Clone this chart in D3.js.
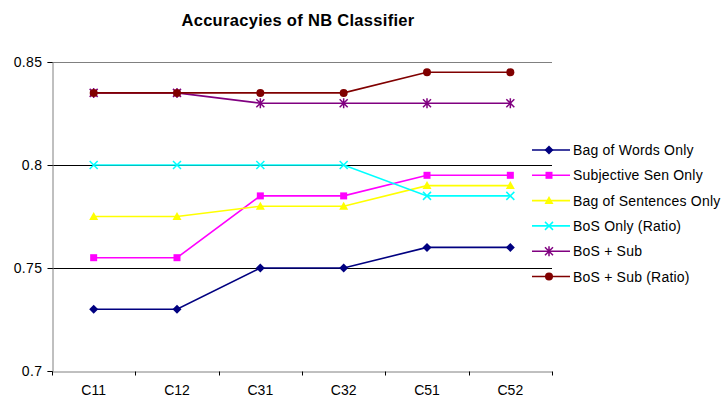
<!DOCTYPE html>
<html><head><meta charset="utf-8">
<script src="https://cdn.jsdelivr.net/npm/d3@7"></script>
<style>body{margin:0;background:#fff}svg{display:block;font-family:Arial,"Liberation Sans",sans-serif}</style>
</head><body>
<script>
const categories = ["C11","C12","C31","C32","C51","C52"];
const seriesNames = ["Bag of Words Only","Subjective Sen Only","Bag of Sentences Only","BoS Only (Ratio)","BoS + Sub","BoS + Sub (Ratio)"];
const bagOfWords = [0.73,0.73,0.75,0.75,0.76,0.76];
const subjectiveSen = [0.755,0.755,0.785,0.785,0.795,0.795];
const bagOfSentences = [0.775,0.775,0.78,0.78,0.79,0.79];
const bosRatio = [0.8,0.8,0.8,0.8,0.785,0.785];
const bosSub = [0.835,0.835,0.83,0.83,0.83,0.83];
const bosSubRatio = [0.835,0.835,0.835,0.835,0.845,0.845];
const yTicks = [0.7,0.75,0.8,0.85];
const colors = ["#000080","#FF00FF","#FFFF00","#00FFFF","#800080","#800000"];
const markers = ["diamond","square","triangle","x","star","circle"];
const seriesValues = [bagOfWords,subjectiveSen,bagOfSentences,bosRatio,bosSub,bosSubRatio];

const W=721,H=397;
const FONT="Arial,'Liberation Sans',sans-serif";
const svg=d3.select("body").append("svg").attr("width",W).attr("height",H);
const L=52,R=552,T=62,B=371;
const x=d3.scaleBand().domain(categories).range([L,R]);
const y=d3.scaleLinear().domain([0.7,0.85]).range([B,T]);

svg.append("text").attr("x",298).attr("y",26).attr("text-anchor","middle")
  .attr("font-size",16.5).attr("font-weight","bold").attr("letter-spacing",0.3).text("Accuracyies of NB Classifier");

// gridlines
svg.append("g").selectAll("line").data([0.75,0.8]).join("line")
  .attr("x1",L).attr("x2",R).attr("y1",d=>Math.round(y(d))+0.5).attr("y2",d=>Math.round(y(d))+0.5)
  .attr("stroke","#000").attr("stroke-width",1);
svg.append("line").attr("x1",L).attr("x2",R).attr("y1",Math.round(y(0.85))+0.5).attr("y2",Math.round(y(0.85))+0.5)
  .attr("stroke","#808080").attr("stroke-width",1);

// y axis
const ya=svg.append("g").attr("transform",`translate(${L+0.5},0)`)
  .call(d3.axisLeft(y).tickValues(yTicks).tickFormat(d=>String(+d.toFixed(2))).tickSize(5).tickPadding(5));
ya.select(".domain").attr("stroke","#808080");
ya.selectAll(".tick line").attr("stroke","#000");
ya.selectAll("text").attr("font-size",14).attr("letter-spacing",0.4).attr("font-family",FONT).attr("fill","#000");

// x axis
const xa=svg.append("g").attr("transform",`translate(0,${B+0.5})`)
  .call(d3.axisBottom(x).tickSize(0).tickPadding(14));
xa.select(".domain").attr("stroke","#808080");
xa.selectAll("text").attr("font-size",14).attr("font-family",FONT).attr("fill","#000");
xa.append("g").selectAll("line").data(d3.range(categories.length+1)).join("line")
  .attr("x1",i=>Math.round(L+i*x.step())+0.5).attr("x2",i=>Math.round(L+i*x.step())+0.5)
  .attr("y1",0).attr("y2",4).attr("stroke","#000");

function drawMarker(g,type,color){
  if(type==="diamond") g.append("path").attr("d","M0,-4.5L4.5,0L0,4.5L-4.5,0Z").attr("fill",color);
  else if(type==="square") g.append("rect").attr("x",-3.5).attr("y",-3.5).attr("width",7).attr("height",7).attr("fill",color);
  else if(type==="triangle") g.append("path").attr("d","M0,-4.5L4.5,3.5L-4.5,3.5Z").attr("fill",color);
  else if(type==="x") g.append("path").attr("d","M-4,-4L4,4M-4,4L4,-4").attr("stroke",color).attr("stroke-width",1.5);
  else if(type==="star") g.append("path").attr("d","M-4,-4L4,4M-4,4L4,-4M0,-5L0,5").attr("stroke",color).attr("stroke-width",1.5);
  else if(type==="circle") g.append("circle").attr("r",4).attr("fill",color);
}

const line=d3.line().x((d,i)=>x(categories[i])+x.bandwidth()/2).y(d=>y(d));
seriesValues.forEach((vals,si)=>{
  const g=svg.append("g");
  g.append("path").attr("d",line(vals)).attr("fill","none").attr("stroke",colors[si]).attr("stroke-width",1.6);
  vals.forEach((v,i)=>{
    const mg=g.append("g").attr("transform",`translate(${x(categories[i])+x.bandwidth()/2},${y(v)})`);
    drawMarker(mg,markers[si],colors[si]);
  });
});

// legend
const lg=svg.append("g");
seriesNames.forEach((name,i)=>{
  const yy=150+i*25.3;
  const g=lg.append("g").attr("transform",`translate(0,${yy})`);
  g.append("line").attr("x1",532).attr("x2",570).attr("y1",0).attr("y2",0).attr("stroke",colors[i]).attr("stroke-width",1.6);
  const mg=g.append("g").attr("transform","translate(549,0)");
  drawMarker(mg,markers[i],colors[i]);
  g.append("text").attr("x",573).attr("y",5).attr("font-size",14).attr("letter-spacing",0.2).attr("fill","#000").text(name);
});
</script>
</body></html>
